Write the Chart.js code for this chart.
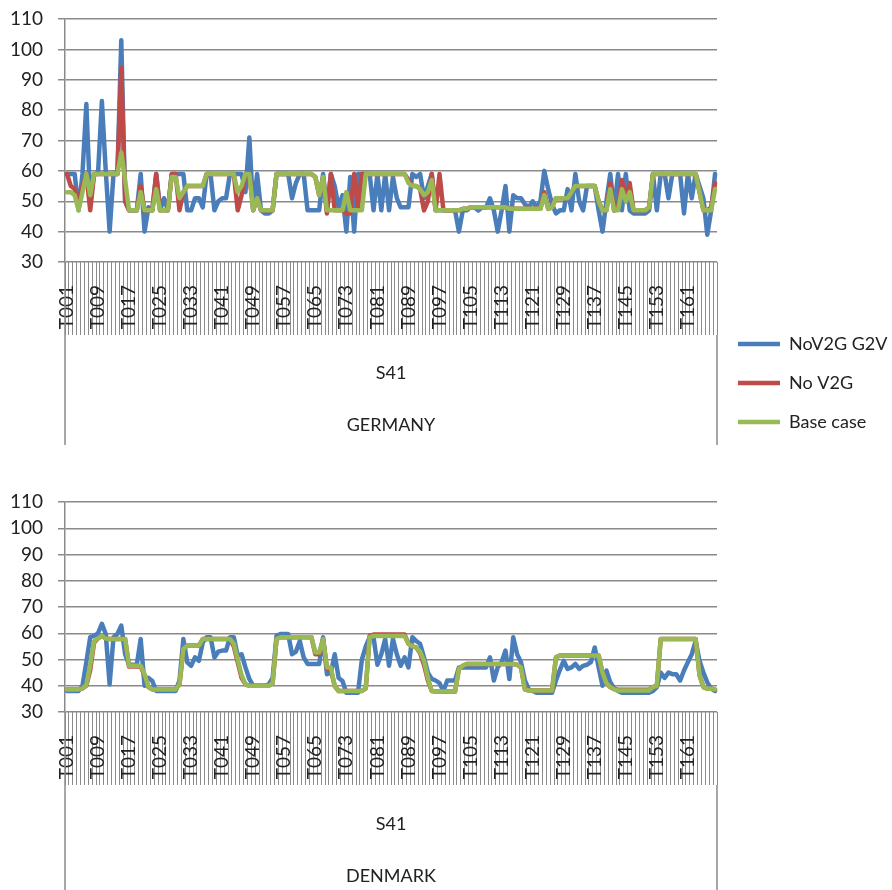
<!DOCTYPE html>
<html>
<head>
<meta charset="utf-8">
<script src="https://cdn.jsdelivr.net/npm/chart.js@4.4.1/dist/chart.umd.min.js"></script>
<style>
  body { margin: 0; background: #fff; }
  canvas { position: absolute; left: 0; }
</style>
</head>
<body>
<canvas id="c1" width="892" height="452" style="top:0;width:892px;height:452px"></canvas>
<canvas id="c2" width="892" height="438" style="top:452px;width:892px;height:438px"></canvas>
<script>
// ---------- categories ----------
const categories = [];
for (let i = 1; i <= 168; i++) categories.push('T' + String(i).padStart(3, '0'));
const labelEvery = 8;
const groupLabel = 'S41';
const seriesNames = ['NoV2G G2V', 'No V2G', 'Base case'];
const yTicks = { min: 30, max: 110, step: 10 };

// ---------- GERMANY ----------
const deNoV2G_G2V = [
  59,59,59,47,59,82,50,59,
  59,83,60,40,59,59,103,50,
  47,47,47,59,40,48,47,59,
  47,51,47,59,59,59,59,47,
  47,51,51,48,59,59,47,50,
  51,51,59,59,59,59,53,71,
  47,59,47,46,46,47,59,59,
  59,59,51,56,59,59,47,47,
  47,47,59,47,59,55,48,52,
  40,58,40,59,59,59,59,47,
  59,47,59,47,58,51,48,48,
  48,59,58,59,51,55,59,47,
  47,47,47,47,47,40,47,47,
  48,48,47,48,48,51,47,40,
  47,55,40,52,51,51,49,48,
  50,48,50,60,54,49,46,47,
  47,54,47,59,50,47,55,55,
  55,47,40,50,59,47,59,47,
  59,47,46,46,46,46,47,59,
  47,59,59,51,59,59,59,46,
  59,51,59,55,51,39,47,59
];
const deNoV2G = [
  59,55,54,50,55,59,47,59,
  59,59,59,59,59,59,94,50,
  47,47,47,55,47,47,47,59,
  47,47,47,59,59,47,53,55,
  55,55,55,55,59,59,59,59,
  59,59,59,59,47,52,59,59,
  47,51,47,47,47,47,59,59,
  59,59,59,59,59,59,59,59,
  58,52,58,46,59,47,47,47,
  46,46,59,48,59,59,59,59,
  59,59,59,59,59,59,59,59,
  57,55,55,54,47,50,59,47,
  59,47,47,47,47,47,47.5,47.5,
  48,48,48,48,48,48,48,48,
  48,48,47.5,47.5,47.5,47.5,47.5,47.5,
  47.5,47.5,47.5,53,47.5,48,51,51,
  51,51,53,55,55,55,55,55,
  55,50,47,47,56,47,48,57,
  50,56,47,47,47,47,48,59,
  59,59,59,59,59,59,59,59,
  59,59,59,53,47,47,48,56
];
const deBase = [
  53,53,52,47,53,59,52,59,
  59,59,59,59,59,59,66,57,
  47,47,47,53,47,47,47,54,
  47,47,47,58,58,51,53,55,
  55,55,55,55,59,59,59,59,
  59,59,59,59,53,55,59,59,
  47,51,47,47,47,47,59,59,
  59,59,59,59,59,59,59,59,
  58,52,58,47,47,47,47,47,
  53,47,47,47,47,59,59,59,
  59,59,59,59,59,59,59,59,
  56,55,55,54,52,53,57,47,
  47,47,47,47,47,47,47.5,47.5,
  48,48,48,48,48,48,48,48,
  48,48,47.5,47.5,47.5,47.5,47.5,47.5,
  47.5,47.5,47.5,52,47.5,48,51,51,
  51,51,53,55,55,55,55,55,
  55,50,47,47,54,47,47,54,
  50,53,47,47,47,47,48,59,
  59,59,59,59,59,59,59,59,
  59,59,59,53,47,47,47,54
];

// ---------- DENMARK ----------
const dkNoV2G_G2V = [
  38,38,38,38,40,49,58.5,59,
  60,63.6,59.7,40.5,58.5,59.7,62.9,52,
  48,48,48,57.8,40,43,41.8,38,
  38,38,38,38,38,42,57.8,48.9,
  47.6,50.8,49.5,56.5,58.5,58.5,50.8,53,
  53.4,53.4,58.5,58.5,51.4,52,47,42.6,
  40,40,40,40,40.5,43,59,59.7,
  59.7,59.7,52,53,57,50.8,48.3,48.3,
  48.3,48.3,58.5,44.4,45,52,43,41.8,
  37.3,37.3,37.3,37.3,50,55,58.5,58.5,
  48,52,57.8,47.6,57.8,52,47.6,50.8,
  47,58.5,57,56,50.8,45,42.6,42,
  41,38,42,42,42,47,47,47,
  47,47,47,47,47,50.8,42,47,
  49,53.4,42.6,58.5,52,49,42,38.6,
  38,37.3,37.3,37.3,37.3,37.3,42,46,
  49.5,46.4,47,48.3,46.4,47.6,48,49,
  54.6,47,40,45.8,41.3,39,38,37.3,
  37.3,37.3,37.3,37.3,37.3,37.3,37.3,38,
  39.5,45,43,45,44.4,44.4,42,45.8,
  49,52,57,49.5,45,41.3,38.9,38
];
const dkNoV2G = [
  38.6,38.6,38.6,38.6,39,40,46,56.5,
  58,59,58,57.8,57.8,57.8,57.8,57.8,
  47.3,47.3,47.3,47.3,44,39.5,38.6,38.6,
  38.6,38.6,38.6,38.6,38.6,40.5,54,55.3,
  55.3,55.3,55.3,57.8,57.8,57.8,57.8,57.8,
  57.8,57.8,57.8,55,49,43,40.5,40,
  40,40,40,40,40,41,57.8,58.5,
  58.5,58.5,58.5,58.5,58.5,58.5,58.5,58.5,
  52,52,57.8,46.5,46,39.9,38,38,
  38,38,38,38,38,39,59,59.5,
  59.5,59.5,59.5,59.5,59.5,59.5,59.5,59.5,
  56,55,54.6,52.5,48,42,38,37.8,
  37.8,37.8,37.8,37.8,37.8,46.4,47.6,48.3,
  48.3,48.3,48.3,48.3,48.3,48.3,48.3,48.3,
  48.3,48.3,48.3,48.3,48,47,38.6,38.2,
  38.2,38.2,38.2,38.2,38.2,38.2,50.8,51.5,
  51.5,51.5,51.5,51.5,51.5,51.5,51.5,51.5,
  51.5,51.5,45,41,39.5,38.8,38.5,38.5,
  38.5,38.5,38.5,38.5,38.5,38.5,38.5,39.5,
  40,57.8,57.8,57.8,57.8,57.8,57.8,57.8,
  57.8,57.8,57.8,44,39.5,38.9,38.9,38.6
];
const dkBase = [
  38.6,38.6,38.6,38.6,39,40.3,48,57,
  58,59,58,57.8,57.8,57.8,57.8,57.8,
  47.6,47.6,47.6,47.6,44.4,39.5,38.6,38.6,
  38.6,38.6,38.6,38.6,38.6,40.5,54,55.3,
  55.3,55.3,55.3,57.8,57.8,57.8,57.8,57.8,
  57.8,57.8,57.8,56,50,44,40.5,40,
  40,40,40,40,40,41,57.8,58.5,
  58.5,58.5,58.5,58.5,58.5,58.5,58.5,58.5,
  52.7,52.7,57.8,47,47,39.9,38,38,
  38,38,38,38,38,39,58.5,59,
  59,59,59,59,59,59,59,59,
  56,55,54.6,53,49.5,43,38,37.8,
  37.8,37.8,37.8,37.8,37.8,46.4,47.6,48.3,
  48.3,48.3,48.3,48.3,48.3,48.3,48.3,48.3,
  48.3,48.3,48.3,48.3,48,47,38.6,38.2,
  38.2,38.2,38.2,38.2,38.2,38.2,50.8,51.5,
  51.5,51.5,51.5,51.5,51.5,51.5,51.5,51.5,
  51.5,51.5,45,41,39.5,38.6,38.2,38.2,
  38.2,38.2,38.2,38.2,38.2,38.2,38.2,39.5,
  40,57.8,57.8,57.8,57.8,57.8,57.8,57.8,
  57.8,57.8,57.8,44,39.5,38.9,38.9,38.6
];

// ---------- styling ----------
const colors = ['#4A7EBB', '#BE4B48', '#98B954'];
const gridColor = '#8a8a8a';
const textColor = '#222222';
Chart.defaults.font.family = 'Lato, "Open Sans", sans-serif';
Chart.defaults.font.size = 18;
Chart.defaults.color = textColor;

function makeDatasets(a, b, c) {
  return [a, b, c].map((d, k) => ({
    label: seriesNames[k],
    data: d,
    borderColor: colors[k],
    backgroundColor: colors[k],
    borderWidth: 4.5,
    pointRadius: 0,
    pointHoverRadius: 0,
    tension: 0,
    fill: false,
    borderJoinStyle: 'round',
    borderCapStyle: 'round',
    order: 3 - k
  }));
}

const frameLines = {
  id: 'frameLines',
  afterDraw(chart, args, opts) {
    const xs = chart.scales.x;
    const ca = chart.chartArea;
    const ctx = chart.ctx;
    ctx.save();
    ctx.strokeStyle = gridColor;
    ctx.lineWidth = 1.5;
    ctx.beginPath();
    ctx.moveTo(xs.left, ca.bottom);
    ctx.lineTo(xs.left, opts.endY);
    ctx.moveTo(xs.right, ca.bottom + opts.tick);
    ctx.lineTo(xs.right, opts.endY);
    ctx.stroke();
    ctx.restore();
  }
};

const TICK_LEN = 73;
const tickFont = { family: 'Lato, "Open Sans", sans-serif', size: 19 };

function makeConfig(country, data, opt) {
  return {
    type: 'line',
    data: { labels: categories, datasets: makeDatasets(...data) },
    plugins: [frameLines],
    options: {
      responsive: false,
      animation: false,
      events: [],
      layout: { padding: { top: opt.padTop, left: 0, right: opt.padRight, bottom: 0 } },
      plugins: {
        tooltip: { enabled: false },
        frameLines: { endY: opt.endY, tick: TICK_LEN },
        legend: opt.legend ? {
          display: true,
          position: 'right',
          align: 'end',
          fullSize: true,
          maxWidth: 175,
          labels: {
            usePointStyle: true,
            pointStyle: 'line',
            pointStyleWidth: 42,
            padding: 21,
            color: textColor,
            font: { size: 18 },
            sort: (a, b) => a.datasetIndex - b.datasetIndex
          }
        } : { display: false }
      },
      scales: {
        x: {
          type: 'category',
          offset: true,
          afterFit: s => { s.height = opt.xHeight; },
          grid: {
            display: true,
            offset: true,
            drawOnChartArea: false,
            drawTicks: true,
            tickLength: TICK_LEN,
            color: gridColor,
            tickColor: gridColor,
            lineWidth: 1
          },
          border: { display: false },
          ticks: {
            autoSkip: false,
            maxRotation: 90,
            minRotation: 90,
            padding: 23 - TICK_LEN,
            color: textColor,
            font: tickFont,
            callback: (v, i) => (i % labelEvery === 0 ? categories[i] : '')
          },
          title: {
            display: true,
            text: [groupLabel, country],
            color: textColor,
            font: { size: 18, lineHeight: '52px' },
            padding: { top: 0, bottom: opt.titlePadBottom }
          }
        },
        y: {
          min: yTicks.min,
          max: yTicks.max,
          afterFit: s => { s.width = 65; s.paddingTop = 0; s.paddingBottom = 0; },
          ticks: { stepSize: yTicks.step, padding: 15, color: textColor, font: tickFont },
          grid: { color: gridColor, lineWidth: 1.5, tickLength: 7, tickColor: gridColor },
          border: { display: true, color: gridColor, width: 1.5 }
        }
      }
    }
  };
}

new Chart(document.getElementById('c1'), makeConfig('GERMANY',
  [deNoV2G_G2V, deNoV2G, deBase],
  { padTop: 19, padRight: 0, legend: true, xHeight: 190, titlePadBottom: 1, endY: 445 }));

new Chart(document.getElementById('c2'), makeConfig('DENMARK',
  [dkNoV2G_G2V, dkNoV2G, dkBase],
  { padTop: 50, padRight: 175, legend: false, xHeight: 178, titlePadBottom: -12, endY: 438 }));
</script>
</body>
</html>
